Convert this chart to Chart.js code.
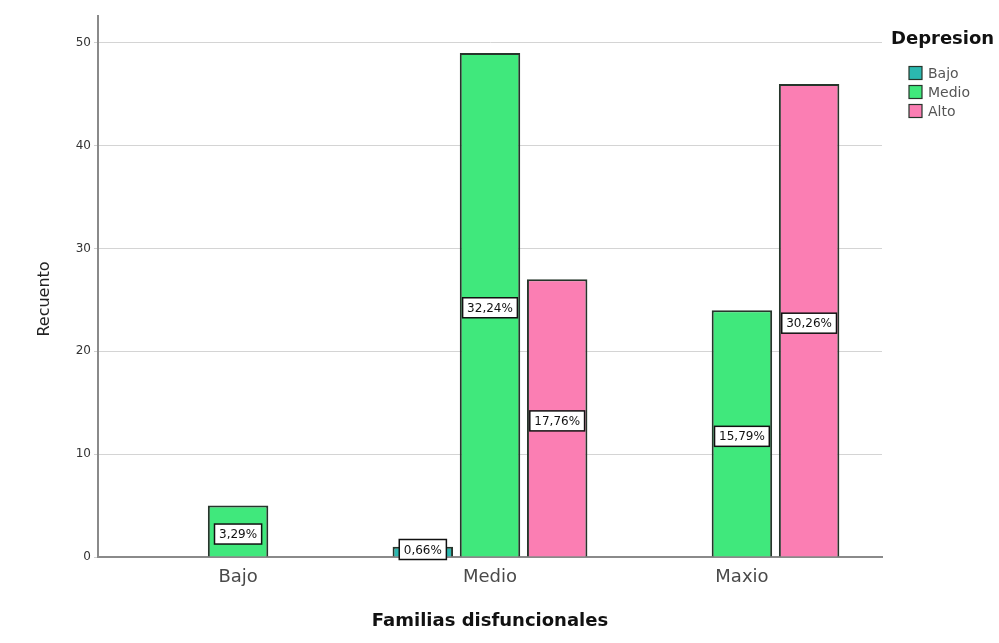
<!DOCTYPE html>
<html>
<head>
<meta charset="utf-8">
<script src="https://cdn.jsdelivr.net/npm/chart.js@4"></script>
<style>
  html, body { margin: 0; padding: 0; background: #fff; }
  #wrap { width: 999px; height: 643px; position: relative; }
</style>
</head>
<body>
<div id="wrap"><canvas id="c" width="999" height="643"></canvas></div>
<script>
const categories = ['Bajo', 'Medio', 'Maxio'];
const seriesNames = ['Bajo', 'Medio', 'Alto'];
const bajoValues = [null, 1, null];
const medioValues = [5, 49, 24];
const altoValues = [null, 27, 46];
const yTicks = [0, 10, 20, 30, 40, 50];
const seriesColors = ['#2bb8b0', '#40e87c', '#fb7eb3'];
const legendTitle = 'Depresion';
const xTitle = 'Familias disfuncionales';
const yTitle = 'Recuento';

const FONT = "'DejaVu Sans', sans-serif";
Chart.defaults.font.family = FONT;

const allSeries = [bajoValues, medioValues, altoValues];
const total = allSeries.flat().filter(v => v != null).reduce((a, b) => a + b, 0);

const datasets = allSeries.map((vals, si) => ({
  label: seriesNames[si],
  data: vals.map((v, i) => ({ x: i, y: v })),
  backgroundColor: seriesColors[si],
  borderColor: '#26352b',
  borderWidth: 2,
  categoryPercentage: 0.8,
  barPercentage: 0.9
}));

const labelPlugin = {
  id: 'pctLabels',
  afterDatasetsDraw(chart) {
    const ctx = chart.ctx;
    ctx.save();
    ctx.font = '12px ' + FONT;
    ctx.textAlign = 'center';
    ctx.textBaseline = 'middle';
    chart.data.datasets.forEach((ds, di) => {
      const meta = chart.getDatasetMeta(di);
      meta.data.forEach((el, i) => {
        const v = ds.data[i].y;
        if (v == null) return;
        const txt = (v / total * 100).toFixed(2).replace('.', ',') + '%';
        const h = 20;
        let cy = (el.y + el.base) / 2 + 3;
        cy = Math.min(cy, el.base - h / 2 + 3);
        const w = ctx.measureText(txt).width + 9;
        ctx.fillStyle = '#ffffff';
        ctx.fillRect(el.x - w / 2, cy - h / 2, w, h);
        ctx.strokeStyle = '#111';
        ctx.lineWidth = 1.5;
        ctx.strokeRect(el.x - w / 2, cy - h / 2, w, h);
        ctx.fillStyle = '#111';
        ctx.fillText(txt, el.x, cy + 1);
      });
    });
    ctx.restore();
  }
};

const decorPlugin = {
  id: 'decor',
  afterDraw(chart) {
    const ctx = chart.ctx;
    ctx.save();
    ctx.translate(45, 299);
    ctx.rotate(-Math.PI / 2);
    ctx.font = '16px ' + FONT;
    ctx.fillStyle = '#222';
    ctx.textAlign = 'center';
    ctx.textBaseline = 'middle';
    ctx.fillText(yTitle, 0, 0);
    ctx.restore();

    ctx.save();
    ctx.font = 'bold 18px ' + FONT;
    ctx.fillStyle = '#111';
    ctx.textAlign = 'left';
    ctx.textBaseline = 'middle';
    ctx.fillText(legendTitle, 891, 39);
    ctx.font = '14px ' + FONT;
    chart.data.datasets.forEach((ds, i) => {
      const cy = 73 + i * 19;
      ctx.fillStyle = ds.backgroundColor;
      ctx.fillRect(909, cy - 6.5, 13, 13);
      ctx.strokeStyle = '#26352b';
      ctx.lineWidth = 1.2;
      ctx.strokeRect(909, cy - 6.5, 13, 13);
      ctx.fillStyle = '#555';
      ctx.fillText(ds.label, 928, cy + 1);
    });
    ctx.restore();
  }
};

new Chart(document.getElementById('c'), {
  type: 'bar',
  data: { datasets },
  options: {
    responsive: false,
    animation: false,
    devicePixelRatio: 1,
    layout: { padding: { left: 0, top: 16, right: 117, bottom: 0 } },
    plugins: {
      legend: { display: false },
      tooltip: { enabled: false }
    },
    scales: {
      x: {
        type: 'linear',
        offset: false,
        min: -0.556,
        max: 2.556,
        afterBuildTicks(scale) { scale.ticks = categories.map((c, i) => ({ value: i })); },
        afterFit(scale) { scale.height = 86; },
        ticks: {
          callback: (v) => categories[v],
          font: { size: 18, family: FONT },
          color: '#4a4a4a',
          padding: 10,
          maxRotation: 0,
          autoSkip: false
        },
        grid: { display: false, drawTicks: false, offset: false },
        border: { display: true, color: '#8a8a8a', width: 2 },
        title: {
          display: true,
          text: xTitle,
          font: { size: 18, weight: 'bold', family: FONT },
          color: '#111',
          padding: { top: 0, bottom: 11 }
        }
      },
      y: {
        min: 0,
        max: 52.6,
        afterBuildTicks(scale) { scale.ticks = yTicks.map(v => ({ value: v })); },
        afterFit(scale) { scale.width = 98; },
        ticks: {
          font: { size: 12, family: FONT },
          color: '#333',
          padding: 3
        },
        grid: { color: '#d4d4d4', lineWidth: 1, drawTicks: true, tickLength: 4, tickColor: '#cfcfcf' },
        border: { display: true, color: '#8a8a8a', width: 2 }
      }
    }
  },
  plugins: [labelPlugin, decorPlugin]
});
</script>
</body>
</html>
